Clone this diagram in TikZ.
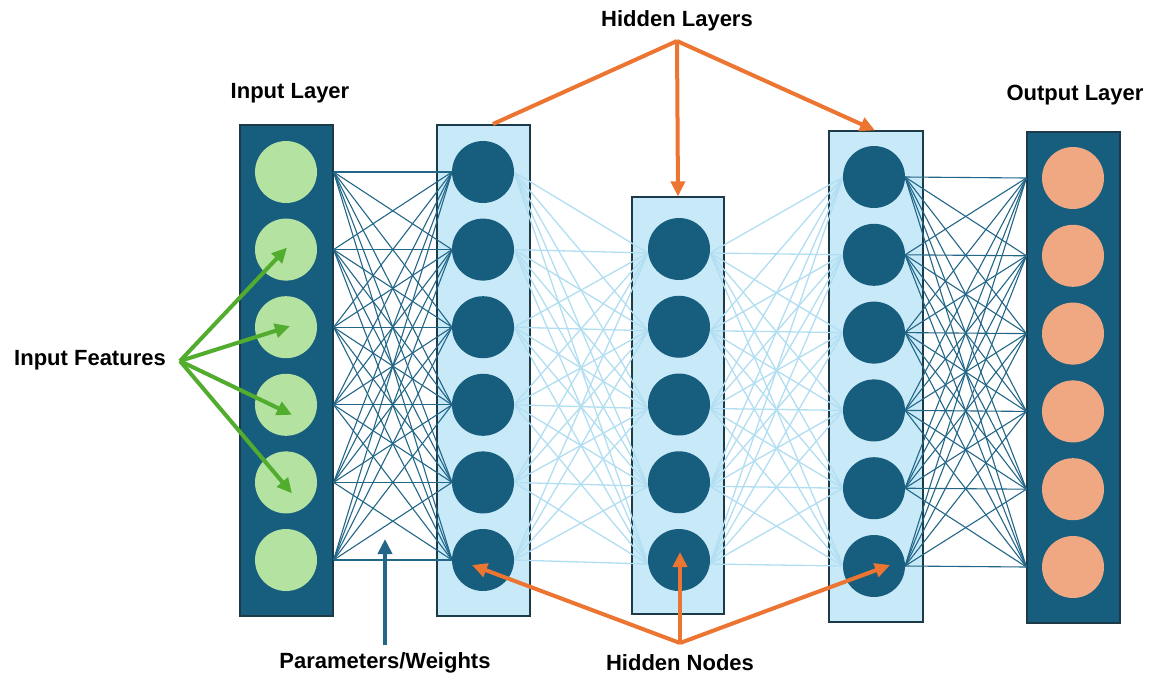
\documentclass[tikz,border=0pt]{standalone}
\usepackage{fontspec}
\setmainfont{Liberation Sans}
\usetikzlibrary{arrows.meta,calc}

\definecolor{deepteal}{HTML}{175D7E}
\definecolor{paleblue}{HTML}{C8EAF8}
\definecolor{boxedge}{HTML}{1C3A48}
\definecolor{leaf}{HTML}{B3E2A1}
\definecolor{peach}{HTML}{EFA882}
\definecolor{flame}{HTML}{EC7532}
\definecolor{grass}{HTML}{52AC2E}
\definecolor{wire}{HTML}{236788}
\definecolor{softwire}{HTML}{B2DEF2}

\tikzset{
  darkbox/.style={draw=boxedge, line width=1.2pt, fill=deepteal, inner sep=0pt},
  lightbox/.style={draw=boxedge, line width=1.2pt, fill=paleblue, inner sep=0pt},
  neuron/.style={circle, minimum size=62pt, inner sep=0pt},
  innode/.style={neuron, fill=leaf},
  hidnode/.style={neuron, fill=deepteal},
  outnode/.style={neuron, fill=peach},
  strongwire/.style={draw=wire, line width=1.1pt},
  faintwire/.style={draw=softwire, line width=1.3pt},
  caption/.style={font=\fontsize{22}{26}\selectfont\bfseries, inner sep=0pt},
  callout/.style={line width=4pt, -{Triangle[length=15pt,width=14pt]}},
  pointer/.style={line width=4pt},
}

\begin{document}
\begin{tikzpicture}[x=1pt,y=-1pt]
\useasboundingbox (0,0) rectangle (1151,681);
\fill[white] (0,0) rectangle (1151,681);

% layer boxes
\node[darkbox,  minimum width=93pt, minimum height=491pt] (inbox)  at (286.5,370.5) {};
\node[lightbox, minimum width=93pt, minimum height=491pt] (h1box)  at (483.5,370.5) {};
\node[lightbox, minimum width=92pt, minimum height=417pt] (h2box)  at (678,405.5) {};
\node[lightbox, minimum width=94pt, minimum height=491pt] (h3box)  at (876,376.5) {};
\node[darkbox,  minimum width=93pt, minimum height=491pt] (outbox) at (1073.5,377.5) {};

% neuron positions (placed as empty coordinates first, circles drawn later)
\foreach \k in {1,...,6} {
  \coordinate (i\k) at (286, {172+77.6*(\k-1)});
  \coordinate (a\k) at (483, {172+77.6*(\k-1)});
  \coordinate (c\k) at (874, {177+77.8*(\k-1)});
  \coordinate (o\k) at (1073, {178+77.8*(\k-1)});
}
\foreach \k in {1,...,5} {
  \coordinate (b\k) at (679, {249+77.75*(\k-1)});
}

% light weights between the hidden layers
\foreach \s in {1,...,6} {
  \foreach \t in {1,...,5} {
    \draw[faintwire] ($(a\s)+(31,0)$) -- ($(b\t)+(-31,4)$);
    \draw[faintwire] ($(b\t)+(31,4)$) -- ($(c\s)+(-31,0)$);
  }
}

% dark weights into and out of the outer hidden layers
\foreach \s in {1,...,6} {
  \foreach \t in {1,...,6} {
    \draw[strongwire] (inbox.east |- i\s) -- ($(a\t)+(-31,0)$);
    \draw[strongwire] ($(c\s)+(31,0)$) -- (outbox.west |- o\t);
  }
}

% neurons
\foreach \k in {1,...,6} {
  \node[innode]  (in\k)  at (i\k) {};
  \node[hidnode] (ha\k)  at (a\k) {};
  \node[hidnode] (hc\k)  at (c\k) {};
  \node[outnode] (out\k) at (o\k) {};
}
\foreach \k in {1,...,5} {
  \node[hidnode] (hb\k) at (b\k) {};
}

% captions
\node[caption] (lblin)   at (290,93)   {Input Layer};
\node[caption] (lblhid)  at (677,21)   {Hidden Layers};
\node[caption] (lblout)  at (1075,95)  {Output Layer};
\node[caption] (lblfeat) at (90,360)   {Input Features};
\node[caption] (lblpar)  at (385,663)  {Parameters/Weights};
\node[caption] (lblnod)  at (680,663)  {Hidden Nodes};

% callout origins
\coordinate (hidtop)  at (677,41);
\coordinate (featsrc) at (180,361);
\coordinate (parsrc)  at (385,645);
\coordinate (nodsrc)  at (680,643);
\coordinate (h1mark)  at (493,124);

% hidden layer callouts
\draw[pointer, flame] (hidtop) -- (h1mark);
\draw[callout, flame] (hidtop) -- (h2box.north);
\draw[callout, flame] (hidtop) -- ($(h3box.north)+(-1,0)$);

% hidden node callouts
\draw[callout, flame] (nodsrc) -- ($(ha6)+(-11,5)$);
\draw[callout, flame] (nodsrc) -- ($(hb5)+(1,-8)$);
\draw[callout, flame] (nodsrc) -- ($(hc6)+(16,-1)$);

% input feature callouts
\draw[callout, grass] (featsrc) -- ($(in2)+(1,-2)$);
\draw[callout, grass] (featsrc) -- ($(in3)+(4,-1)$);
\draw[callout, grass] (featsrc) -- ($(in4)+(6,10)$);
\draw[callout, grass] (featsrc) -- ($(in5)+(6,11)$);

% weights callout
\draw[callout, wire] (parsrc) -- (385,539);
\end{tikzpicture}
\end{document}
